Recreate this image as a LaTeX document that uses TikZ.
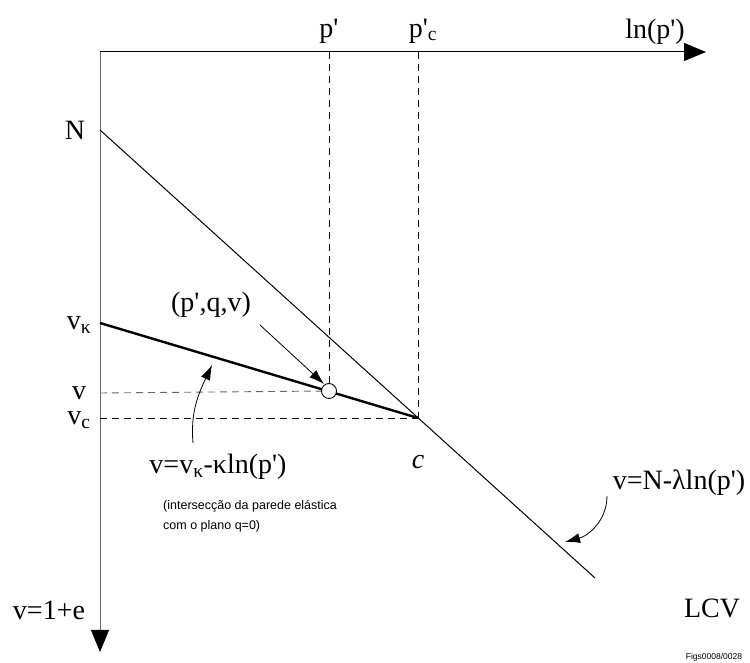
\documentclass[tikz,border=0pt]{standalone}
\usepackage{fontspec}
\setmainfont{Liberation Serif}
\newfontfamily\notefont{Liberation Sans}
\usetikzlibrary{arrows.meta}
\newcommand{\pq}{\textquotesingle}
\tikzset{lbl/.style={inner sep=0pt,font=\fontsize{28}{30}\selectfont},note/.style={inner sep=0pt,align=left,font=\notefont\fontsize{12.5}{20}\selectfont},axis/.style={line width=1pt,-{Triangle[length=22pt,width=18pt,black]}},guide/.style={line width=0.9pt,dash pattern=on 7pt off 5pt},pointer/.style={line width=0.8pt,-{Latex[length=15pt,width=10pt]}}}

\begin{document}
\begin{tikzpicture}[x=1pt,y=1pt]
\useasboundingbox (0,0) rectangle (750,663);
% axes and points
\coordinate (O) at (100,611);
\coordinate (xend) at (706,611);
\coordinate (yend) at (100,11);
\coordinate (N) at (100,533);
\coordinate (vk) at (100,340);
\coordinate (vv) at (100,270);
\coordinate (vc) at (100,245);
\coordinate (c) at (418,245);
\coordinate (lcvend) at (595,85);
\coordinate (ptop) at (329,611);
\coordinate (pctop) at (418,611);
\draw[axis] (O) -- (xend);
\draw[axis,gray!80!black] (O) -- (yend);
\draw[line width=1pt] (N) -- (lcvend);
\draw[line width=2.4pt] (vk) -- (c);
\node[circle,draw,fill=white,line width=0.9pt,minimum size=15pt,inner sep=0pt] (pt) at (329,272) {};
\draw[guide,gray!80!black] (vv) -- (pt);
\draw[guide] (vc) -- (c);
\draw[guide] (ptop) -- (pt);
\draw[guide] (pctop) -- (c);
% labels
\node[lbl] (plab) at (329,632) {p\pq};
\node[lbl] (pclab) at (423,632) {p\pq\textsubscript{c}};
\node[lbl] (lnlab) at (655,631) {ln(p\pq)};
\node[lbl] (Nlab) at (75,533) {N};
\node[lbl] (vklab) at (79,338) {v\textsubscript{κ}};
\node[lbl] (vlab) at (79,270) {v};
\node[lbl] (vclab) at (79,243) {v\textsubscript{c}};
\node[lbl] (elab) at (49,53) {v=1+e};
\node[lbl] (clab) at (418,201) {\textit{c}};
\node[lbl] (lcvlab) at (712,55) {LCV};
\node[lbl] (ncllab) at (679,180) {v=N-λln(p\pq)};
\node[lbl] (pqvlab) at (211,358) {(p\pq,q,v)};
\node[lbl] (urllab) at (218,196) {v=v\textsubscript{κ}-κln(p\pq)};
\node[note,anchor=north west] (notelab) at (163,163) {(intersecção da parede elástica\\com o plano q=0)};
\node[inner sep=0pt,font=\notefont\fontsize{8.5}{9}\selectfont] (figlab) at (714,6) {Figs0008/0028};
% pointers
\coordinate (pqvfrom) at (260,338);
\coordinate (pqvtip) at (324,279);
\coordinate (urlfrom) at (193,220);
\coordinate (urltip) at (212,298);
\coordinate (nclfrom) at (607,167);
\coordinate (ncltip) at (565,121);
\draw[pointer] (pqvfrom) -- (pqvtip);
\draw[pointer] (urlfrom) to[out=95,in=245] (urltip);
\draw[pointer] (nclfrom) to[out=-90,in=15] (ncltip);
\end{tikzpicture}
\end{document}
